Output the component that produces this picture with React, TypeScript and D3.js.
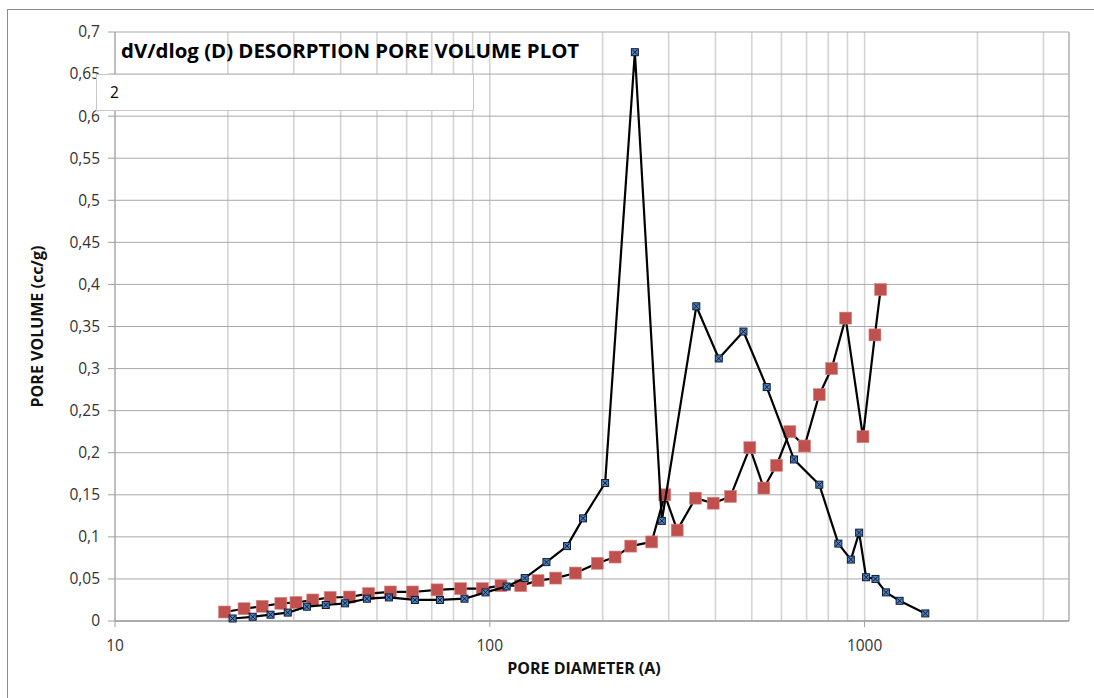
import React from 'react';
import * as d3 from 'd3';

const blueDiameter = [20.6,23.3,26.0,28.9,32.5,36.5,41.1,47.0,53.8,63.1,73.6,85.6,97.4,110.9,123.9,141.6,160.7,177.3,203.1,243.8,287.7,355.6,408.3,475,548,648,757,851,919,967,1009,1069,1140,1240,1452];
const blueVolume = [0.003,0.005,0.0075,0.010,0.017,0.019,0.021,0.0265,0.028,0.025,0.025,0.0265,0.034,0.041,0.051,0.070,0.089,0.122,0.164,0.676,0.119,0.374,0.312,0.344,0.278,0.192,0.162,0.092,0.073,0.105,0.052,0.050,0.034,0.024,0.009];

const redDiameter = [19.6,22.1,24.7,27.7,30.4,33.7,37.5,42.2,47.5,54.3,62.2,72.3,83.6,95.5,107.1,120.9,134.5,149.9,169.2,193.6,215.9,237.7,270.4,293,316.2,353.8,394.5,438.7,494,538.4,582,631.7,691.6,756.8,816.6,889.9,989.7,1065.5,1103.3];
const redVolume = [0.0107,0.0146,0.0175,0.021,0.022,0.025,0.028,0.0285,0.0325,0.0345,0.0345,0.037,0.0384,0.0384,0.042,0.042,0.048,0.051,0.057,0.0686,0.076,0.089,0.094,0.150,0.108,0.146,0.140,0.148,0.206,0.158,0.185,0.225,0.208,0.269,0.300,0.360,0.219,0.340,0.394];

const xTickLabels = [10, 100, 1000];
const yTicks = [0,0.05,0.1,0.15,0.2,0.25,0.3,0.35,0.4,0.45,0.5,0.55,0.6,0.65,0.7];
const xGrid = [10,20,30,40,50,60,70,80,90,100,200,300,400,500,600,700,800,900,1000,2000,3000];

const titleText = 'dV/dlog (D) DESORPTION PORE VOLUME PLOT';
const subtitleText = '2';
const xTitle = 'PORE DIAMETER (A)';
const yTitle = 'PORE VOLUME (cc/g)';

export default function App() {
  const W = 1094, H = 698;
  const L = 115, R = 1069, T = 32, B = 621;
  const x = d3.scaleLog().domain([10, 3510]).range([L, R]);
  const y = d3.scaleLinear().domain([0, 0.7]).range([B, T]);
  const blue = blueDiameter.map((d, i) => [d, blueVolume[i]] as [number, number]);
  const red = redDiameter.map((d, i) => [d, redVolume[i]] as [number, number]);
  const line = d3.line<[number, number]>().x(d => x(d[0])).y(d => y(d[1]));
  const fmt = (v: number) => (v === 0 ? '0' : String(+v.toFixed(2)).replace('.', ','));
  const font = "'Open Sans', sans-serif";
  return (
    <svg width={W} height={H} style={{ position: 'absolute', left: 0, top: 0, background: '#fff' }} fontFamily={font}>
      <rect x={0} y={0} width={W} height={H} fill="#fff" />
      <rect x={7.5} y={9.5} width={W + 10} height={H + 10} fill="none" stroke="#8c8c8c" strokeWidth={1} />
      {xGrid.map(v => (
        <line key={'vx' + v} x1={x(v)} x2={x(v)} y1={T} y2={B} stroke="#d4d4d4" strokeWidth={1.6} />
      ))}
      {yTicks.map(v => (
        <line key={'hy' + v} x1={L} x2={R} y1={y(v)} y2={y(v)} stroke="#a9a9a9" strokeWidth={1} />
      ))}
      <line x1={R} x2={R} y1={T} y2={B} stroke="#b0b0b0" strokeWidth={1.5} />
      <line x1={L} x2={L} y1={T} y2={B} stroke="#a0a0a0" strokeWidth={1} />
      <line x1={L} x2={R} y1={B} y2={B} stroke="#a0a0a0" strokeWidth={1.5} />
      {yTicks.map(v => (
        <g key={'yt' + v}>
          <line x1={L - 7} x2={L} y1={y(v)} y2={y(v)} stroke="#a0a0a0" strokeWidth={1} />
          <text x={L - 15} y={y(v)} dy="0.35em" textAnchor="end" fontSize={15.5} fill="#333">{fmt(v)}</text>
        </g>
      ))}
      {xTickLabels.map(v => (
        <g key={'xt' + v}>
          <line x1={x(v)} x2={x(v)} y1={B} y2={B + 6} stroke="#a0a0a0" strokeWidth={1} />
          <text x={x(v)} y={B + 25} dy="0.35em" textAnchor="middle" fontSize={15.5} fill="#333">{v}</text>
        </g>
      ))}
      <text x={584} y={668} dy="0.35em" textAnchor="middle" fontSize={16} fontWeight="bold" fill="#111">{xTitle}</text>
      <text transform={`translate(37,${(T + B) / 2}) rotate(-90)`} textAnchor="middle" dy="0.35em" fontSize={16} fontWeight="bold" fill="#111">{yTitle}</text>

      <path d={line(red) || ''} fill="none" stroke="#000" strokeWidth={2.2} strokeLinejoin="round" />
      {red.map((d, i) => (
        <rect key={'r' + i} x={x(d[0]) - 6} y={y(d[1]) - 6} width={12} height={12} fill="#C0504D" stroke="#d98a88" strokeWidth={0.6} />
      ))}
      <path d={line(blue) || ''} fill="none" stroke="#000" strokeWidth={2.2} strokeLinejoin="round" />
      {blue.map((d, i) => {
        const cx = x(d[0]), cy = y(d[1]);
        return (
          <g key={'b' + i}>
            <rect x={cx - 3.5} y={cy - 3.5} width={7} height={7} fill="#4F81BD" stroke="#0d1b33" strokeWidth={1} />
            <path d={`M${cx - 2.5},${cy - 2.5}L${cx + 2.5},${cy + 2.5}M${cx - 2.5},${cy + 2.5}L${cx + 2.5},${cy - 2.5}`} stroke="#0d1b33" strokeWidth={1} />
          </g>
        );
      })}

      <text x={121} y={51} dy="0.35em" fontSize={20.4} fontWeight="bold" fill="#000">{titleText}</text>
      <rect x={96.5} y={74.5} width={377} height={36} fill="#fff" stroke="#c8c8c8" strokeWidth={1} />
      <text x={110} y={93} dy="0.35em" fontSize={15.5} fill="#000">{subtitleText}</text>
    </svg>
  );
}
